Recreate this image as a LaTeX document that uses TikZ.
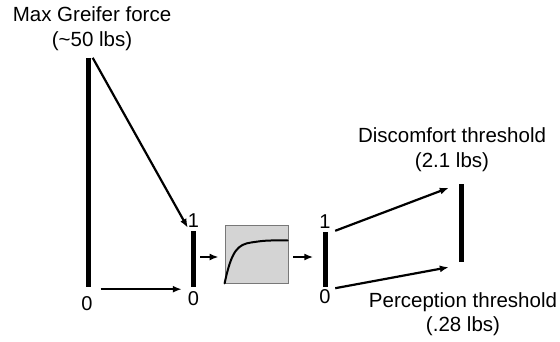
\documentclass[tikz,border=0pt]{standalone}
\usepackage{fontspec}
\setmainfont{Liberation Sans}
\usetikzlibrary{arrows.meta,positioning,calc}
\definecolor{boxfill}{RGB}{212,212,212}
\definecolor{boxline}{RGB}{120,120,120}

\begin{document}
\begin{tikzpicture}[
  x=1pt, y=-1pt,
  font=\fontsize{20.5}{24.5}\selectfont,
  arr/.style={line width=2.2pt, -{Latex[length=9pt,width=7pt]}},
  bar/.style={fill=black, inner sep=0pt, minimum width=5pt},
  lbl/.style={align=center, inner sep=0pt},
  num/.style={inner sep=0pt, font=\fontsize{20}{22}\selectfont},
  curvebox/.style={draw=boxline, fill=boxfill, line width=0.8pt, inner sep=0pt, minimum width=63pt, minimum height=58pt}
]
\useasboundingbox (0,0) rectangle (560,341);

% ----- Bars (scales)
\node[bar, minimum height=229pt] at (88,172.5) (inbar) {};
\node[bar, minimum height=56pt] at (193.5,259) (normbar) {};
\node[curvebox] at (256.5,254) (box) {};
\node[bar, minimum height=55pt] at (325,259.5) (outbar) {};
\node[bar, minimum height=78pt] at (461,223) (thrbar) {};

% ----- Labels
\node[lbl, above=7pt of inbar.north, xshift=4pt] (maxlbl) {Max Greifer force\\(\textasciitilde50 lbs)};
\node[lbl, above=12pt of thrbar.north, xshift=-9pt] (disclbl) {Discomfort threshold\\(2.1 lbs)};
\node[lbl, below=30pt of thrbar.south, xshift=2pt] (perclbl) {Perception threshold\\(.28 lbs)};

\node[num, below=9pt of inbar.south, xshift=-1pt] (inzero) {0};
\node[num, above=3pt of normbar.north] (normone) {1};
\node[num, below=4pt of normbar.south] (normzero) {0};
\node[num, above=3pt of outbar.north] (outone) {1};
\node[num, below=2pt of outbar.south] (outzero) {0};

% ----- Transfer curve inside the box
\draw[line width=2pt, line cap=round]
  (box.south west) .. controls ($(box.south west)+(7,-33)$) and ($(box.south west)+(13,-39)$) .. ($(box.south west)+(27,-41)$)
  .. controls ($(box.south west)+(41,-43)$) .. ($(box.south west)+(63,-43)$);

% ----- Mapping to the normalised scale
\draw[arr] ($(inbar.north east)+(2,0)$) -- ($(normbar.north west)+(-3,-3)$);
\draw[arr] ($(inbar.south east)+(10,2)$) -- ($(normbar.south west)+(-9,2)$);

% ----- Through the curve
\draw[arr] ($(normbar.east)+(4,-2)$) -- ($(normbar.east -| box.west)+(-6,-2)$);
\draw[arr] ($(box.east)+(5,3)$) -- ($(box.east -| outbar.west)+(-9,3)$);

% ----- Onto the threshold range
\draw[arr] ($(outbar.north east)+(7.5,-1)$) -- ($(thrbar.north west)+(-9.5,4)$);
\draw[arr] ($(outbar.south east)+(7.5,1)$) -- ($(thrbar.south west)+(-9.5,5)$);

\end{tikzpicture}
\end{document}
